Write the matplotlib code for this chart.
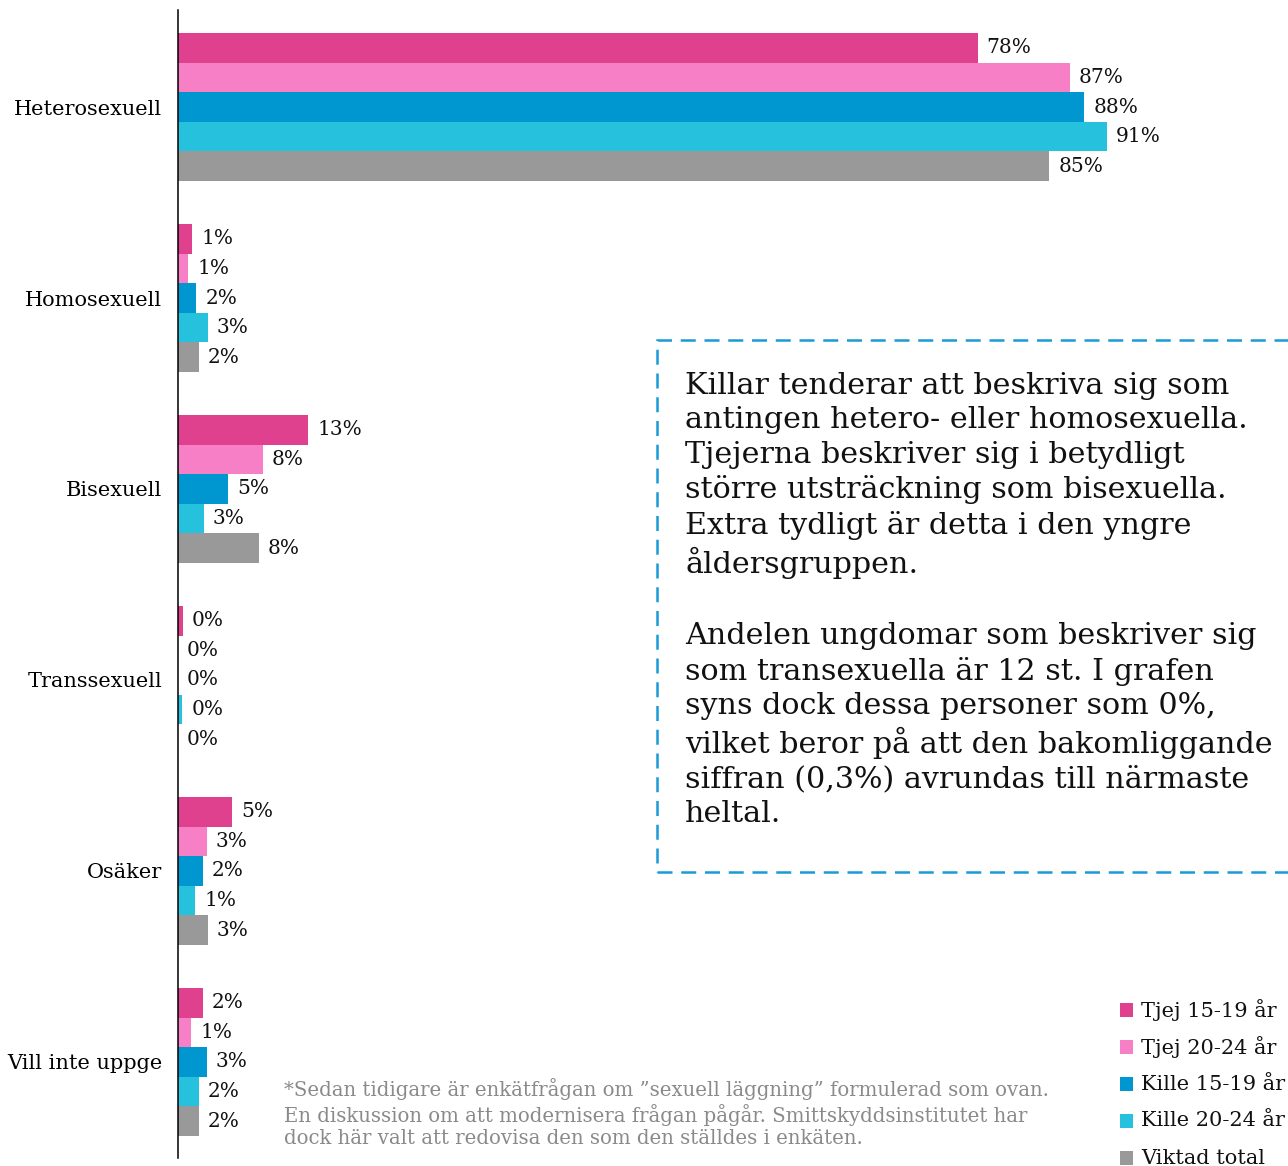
import numpy as np
import matplotlib
matplotlib.use("Agg")
import matplotlib.pyplot as plt
import matplotlib.patches as mpatches

plt.rcParams['font.family'] = ['DejaVu Serif']

# ── Data ──────────────────────────────────────────────────
CATEGORIES = ["Heterosexuell", "Homosexuell", "Bisexuell",
              "Transsexuell", "Osäker", "Vill inte uppge"]
SERIES = ["Tjej 15-19 år", "Tjej 20-24 år", "Kille 15-19 år",
          "Kille 20-24 år", "Viktad total"]

# bar lengths (%) per series, one value per category
tjej_15_19  = [78.0, 1.4, 12.7, 0.45, 5.3, 2.4]
tjej_20_24  = [87.0, 1.0,  8.3, 0.0,  2.8, 1.3]
kille_15_19 = [88.4, 1.8,  4.9, 0.0,  2.4, 2.8]
kille_20_24 = [90.6, 2.9,  2.5, 0.4,  1.7, 2.0]
viktad      = [85.0, 2.0,  7.9, 0.0,  2.9, 2.0]

# printed labels (rounded, as in the source)
lab_tjej_15_19  = [78, 1, 13, 0, 5, 2]
lab_tjej_20_24  = [87, 1,  8, 0, 3, 1]
lab_kille_15_19 = [88, 2,  5, 0, 2, 3]
lab_kille_20_24 = [91, 3,  3, 0, 1, 2]
lab_viktad      = [85, 2,  8, 0, 3, 2]

VALUES = [tjej_15_19, tjej_20_24, kille_15_19, kille_20_24, viktad]
LABELS = [lab_tjej_15_19, lab_tjej_20_24, lab_kille_15_19,
          lab_kille_20_24, lab_viktad]
COLORS = ['#E0418F', '#F77FC5', '#0096CF', '#26C1DD', '#999999']

W, H = 1288, 1166


def fx(x):
    return x / W


def fy(y):
    return 1 - y / H


fig = plt.figure(figsize=(W / 100, H / 100), dpi=100)
ax = fig.add_axes([fx(178), fy(1158), 1025 / W, 1148 / H])

bar_h = 0.155
y_center = np.arange(len(CATEGORIES))
for k, (vals, labs, col) in enumerate(zip(VALUES, LABELS, COLORS)):
    ypos = y_center + (k - 2) * bar_h
    ax.barh(ypos, vals, height=bar_h, color=col, linewidth=0)
    for yy, v, lab in zip(ypos, vals, labs):
        ax.annotate(f"{lab}%", (v, yy), xytext=(6.5, 0),
                    textcoords='offset points', va='center', ha='left',
                    fontsize=14.5, color='#111111')

ax.set_xlim(0, 100)
ax.set_ylim(5.503, -0.508)
ax.set_yticks(y_center)
ax.set_yticklabels(CATEGORIES, fontsize=15)
ax.tick_params(axis='y', length=0, pad=11.5)
ax.set_xticks([])
for s in ['top', 'right', 'bottom']:
    ax.spines[s].set_visible(False)
ax.spines['left'].set_linewidth(1.1)

# ── Comment box ───────────────────────────────────────────
box = mpatches.Rectangle((fx(657), fy(872)), fx(700), (872 - 340) / H,
                         transform=fig.transFigure, fill=False,
                         edgecolor='#1A9AD6', linewidth=1.8,
                         linestyle=(0, (6, 3.5)), clip_on=False)
fig.patches.append(box)

para1 = ("Killar tenderar att beskriva sig som\n"
         "antingen hetero- eller homosexuella.\n"
         "Tjejerna beskriver sig i betydligt\n"
         "större utsträckning som bisexuella.\n"
         "Extra tydligt är detta i den yngre\n"
         "åldersgruppen.")
para2 = ("Andelen ungdomar som beskriver sig\n"
         "som transexuella är 12 st. I grafen\n"
         "syns dock dessa personer som 0%,\n"
         "vilket beror på att den bakomliggande\n"
         "siffran (0,3%) avrundas till närmaste\n"
         "heltal.")
fig.text(fx(685), fy(372), para1, fontsize=21.7, va='top', ha='left',
         linespacing=1.285, color='#111111')
fig.text(fx(685), fy(622), para2, fontsize=21.7, va='top', ha='left',
         linespacing=1.285, color='#111111')

# ── Footnote ──────────────────────────────────────────────
note = ("*Sedan tidigare är enkätfrågan om ”sexuell läggning” formulerad som ovan.\n"
        "En diskussion om att modernisera frågan pågår. Smittskyddsinstitutet har\n"
        "dock här valt att redovisa den som den ställdes i enkäten.")
fig.text(fx(284), fy(1078), note, fontsize=14.2, va='top', ha='left',
         linespacing=1.22, color='#8A8A8A')

# ── Legend ────────────────────────────────────────────────
for k, (name, col) in enumerate(zip(SERIES, COLORS)):
    yy = 1010 + k * 37
    fig.patches.append(mpatches.Rectangle((fx(1120), fy(yy + 7)), 13 / W, 14 / H,
                                          transform=fig.transFigure,
                                          facecolor=col, linewidth=0))
    fig.text(fx(1141), fy(yy), name, fontsize=15, va='center', ha='left',
             color='#111111')

plt.savefig("out.png", dpi=100, facecolor='white')
plt.close()
